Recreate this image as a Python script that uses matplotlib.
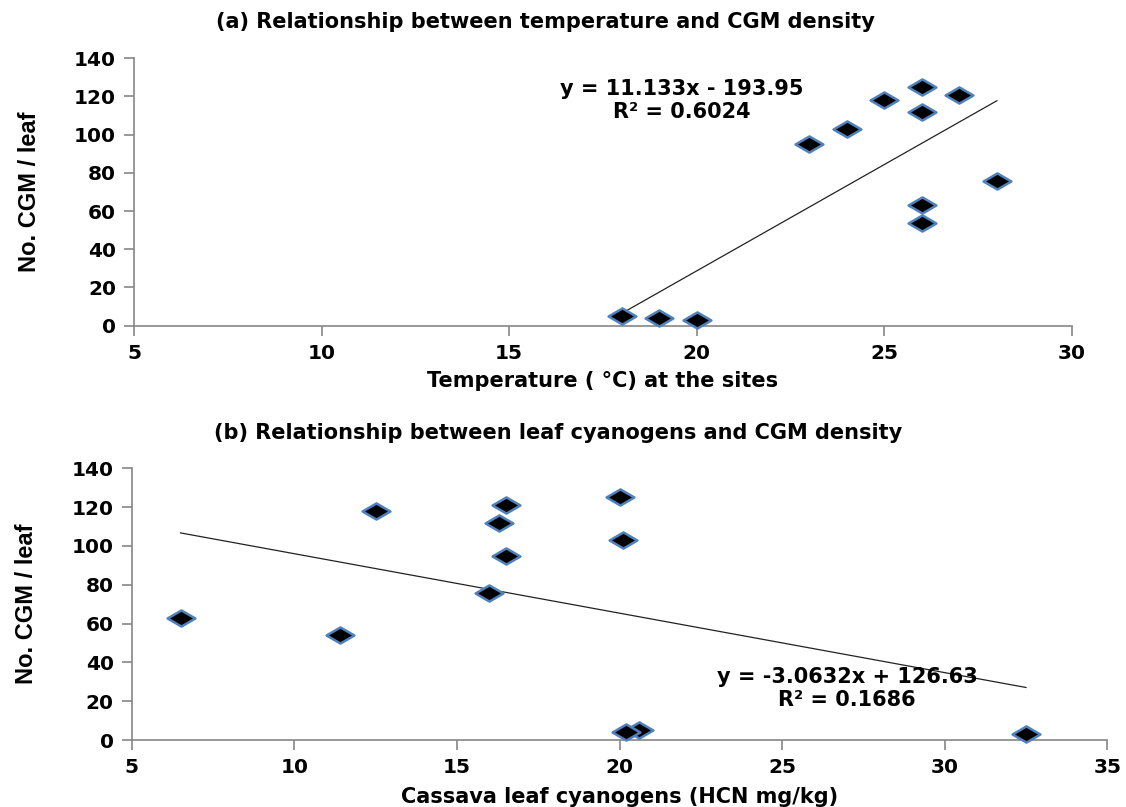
import numpy as np
import matplotlib.pyplot as plt
from matplotlib.path import Path

# data
temp = [18, 19, 20, 23, 24, 25, 26, 26, 27, 28, 26, 26]
cgm = [5, 4, 3, 95, 103, 118, 125, 112, 121, 76, 63, 54]

hcn = [20.6, 20.2, 32.5, 16.5, 20.1, 12.5, 20.0, 16.3, 16.5, 16.0, 6.5, 11.4]
cgm_b = [5, 4, 3, 95, 103, 118, 125, 112, 121, 76, 63, 54]

eq_a = ["y = 11.133x - 193.95", "R² = 0.6024"]
eq_b = ["y = -3.0632x + 126.63", "R² = 0.1686"]

# flat diamond like the excel marker
diamond = Path([(-1, 0), (0, 0.58), (1, 0), (0, -0.58), (-1, 0)],
               [Path.MOVETO, Path.LINETO, Path.LINETO, Path.LINETO, Path.CLOSEPOLY])

fig = plt.figure(figsize=(11.26, 8.07), dpi=100)
ax1 = fig.add_axes([0.1190, 0.5964, 0.8330, 0.3314])
ax2 = fig.add_axes([0.1170, 0.0830, 0.8664, 0.3367])

grey = "#868686"
fs = 15


def style(ax, xlim, xticks):
    ax.set_xlim(*xlim)
    ax.set_ylim(0, 140)
    ax.set_xticks(xticks)
    ax.set_yticks(range(0, 141, 20))
    for s in ["top", "right"]:
        ax.spines[s].set_visible(False)
    for s in ["left", "bottom"]:
        ax.spines[s].set_color(grey)
        ax.spines[s].set_linewidth(1.2)
    ax.tick_params(direction="out", length=7, width=1.2, color=grey,
                   labelsize=14.5, pad=6)
    for lab in ax.get_xticklabels() + ax.get_yticklabels():
        lab.set_fontweight("bold")
    ax.set_ylabel("No. CGM / leaf", family="Liberation Sans", fontweight="bold",
                  fontsize=17, labelpad=24)


def scatter_fit(ax, x, y):
    x = np.array(x, dtype=float)
    y = np.array(y, dtype=float)
    k, b = np.polyfit(x, y, 1)
    xx = np.array([x.min(), x.max()])
    ax.plot(xx, k * xx + b, color="#222222", lw=0.9, zorder=2)
    ax.plot(x, y, ls="none", marker=diamond, markersize=20,
            markerfacecolor="black", markeredgecolor="#4F81BD",
            markeredgewidth=1.8, zorder=3, clip_on=False)


style(ax1, (5, 30), range(5, 31, 5))
scatter_fit(ax1, temp, cgm)
ax1.set_xlabel("Temperature ( °C) at the sites", fontweight="bold", fontsize=fs,
               labelpad=6)
ax1.text(19.6, 124, eq_a[0], ha="center", va="center", fontweight="bold", fontsize=fs)
ax1.text(19.6, 112, eq_a[1], ha="center", va="center", fontweight="bold", fontsize=fs)

style(ax2, (5, 35), range(5, 36, 5))
scatter_fit(ax2, hcn, cgm_b)
ax2.set_xlabel("Cassava leaf cyanogens (HCN mg/kg)", fontweight="bold", fontsize=fs,
               labelpad=7)
ax2.text(27.0, 32.5, eq_b[0], ha="center", va="center", fontweight="bold", fontsize=fs)
ax2.text(27.0, 20.6, eq_b[1], ha="center", va="center", fontweight="bold", fontsize=fs)

fig.text(0.484, 0.973, "(a) Relationship between temperature and CGM density",
         ha="center", va="center", fontweight="bold", fontsize=fs)
fig.text(0.496, 0.463, "(b) Relationship between leaf cyanogens and CGM density",
         ha="center", va="center", fontweight="bold", fontsize=fs)

fig.savefig("out.png", dpi=100)
